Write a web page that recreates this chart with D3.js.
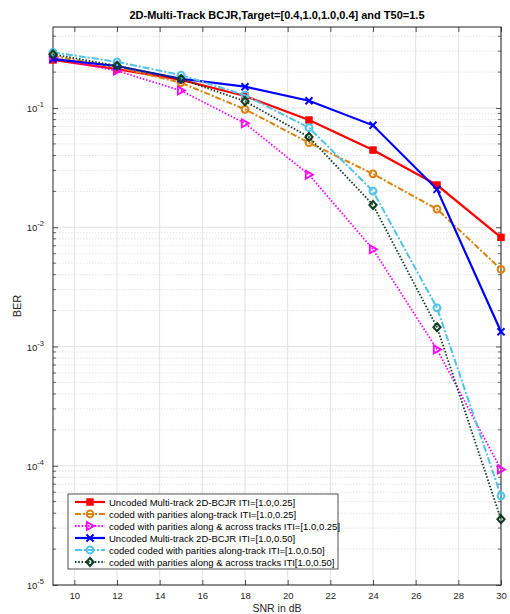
<!DOCTYPE html>
<html>
<head>
<meta charset="utf-8">
<script src="https://cdn.jsdelivr.net/npm/d3@7"></script>
<style>
  body { margin: 0; background: #fff; }
  text { font-family: "Liberation Sans", Arial, sans-serif; }
</style>
</head>
<body>
<div id="chart"></div>
<script>

// data
var snr = [9, 12, 15, 18, 21, 24, 27, 30];

var uncoded25 = [0.253, 0.212, 0.172, 0.126, 0.0793, 0.0444, 0.0226, 0.00824];
var alongTrack25 = [0.272, 0.220, 0.163, 0.0975, 0.0512, 0.0280, 0.0142, 0.00444];
var alongAcross25 = [0.262, 0.205, 0.140, 0.0744, 0.0276, 0.00654, 0.000946, 0.000093];
var uncoded50 = [0.257, 0.225, 0.176, 0.151, 0.115, 0.0716, 0.0208, 0.00133];
var alongTrack50 = [0.293, 0.244, 0.189, 0.128, 0.0684, 0.0201, 0.00211, 0.000056];
var alongAcross50 = [0.282, 0.226, 0.175, 0.114, 0.0571, 0.0154, 0.00145, 0.0000356];

var xTicks = [10, 12, 14, 16, 18, 20, 22, 24, 26, 28, 30];
var yTicks = [-5, -4, -3, -2, -1];

var seriesNames = [
    'Uncoded Multi-track 2D-BCJR ITI=[1.0,0.25]',
    'coded with parities along-track ITI=[1.0,0.25]',
    'coded with parities along & across tracks ITI=[1.0,0.25]',
    'Uncoded Multi-track 2D-BCJR ITI=[1.0,0.50]',
    'coded coded with parities along-track ITI=[1.0,0.50]',
    'coded with parities along & across tracks ITI[1.0,0.50]'
];
var seriesValues = [uncoded25, alongTrack25, alongAcross25, uncoded50, alongTrack50, alongAcross50];

// styles per series
var styles = [
    { color: '#ff0000', dash: null, marker: 'square', fill: true, width: 2.2 },
    { color: '#d9820f', dash: '6,2,2,2', marker: 'circle', fill: false, width: 2 },
    { color: '#ff00ff', dash: '1.5,1.8', marker: 'triangle', fill: false, width: 1.8 },
    { color: '#0000ff', dash: null, marker: 'cross', fill: false, width: 2.2 },
    { color: '#4fc3e8', dash: '7,2,2,2', marker: 'circle', fill: false, width: 2 },
    { color: '#0f3d24', dash: '1.5,1.8', marker: 'diamond', fill: false, width: 1.8 }
];

var attrs = {
    svgWidth: 510,
    svgHeight: 614,
    marginTop: 27,
    marginBottom: 29,
    marginLeft: 53,
    marginRight: 9
};

var calc = {};
calc.chartWidth = attrs.svgWidth - attrs.marginLeft - attrs.marginRight;
calc.chartHeight = attrs.svgHeight - attrs.marginTop - attrs.marginBottom;

var svg = d3.select('#chart')
    .append('svg')
    .attr('width', attrs.svgWidth)
    .attr('height', attrs.svgHeight);

var chart = svg.append('g')
    .attr('transform', 'translate(' + attrs.marginLeft + ',' + attrs.marginTop + ')');

var x = d3.scaleLinear().domain([9, 30]).range([0, calc.chartWidth]);
var y = d3.scaleLog().domain([1e-5, 0.478]).range([calc.chartHeight, 0]);

// minor grid (dotted) for y
var minorY = [];
yTicks.concat([0]).forEach(function (e) {
    for (var k = 2; k <= 9; k++) {
        var v = k * Math.pow(10, e - 1);
        if (v > 1e-5 && v < 0.478) minorY.push(v);
    }
});

chart.append('g').selectAll('line')
    .data(minorY)
    .enter()
    .append('line')
    .attr('x1', 0).attr('x2', calc.chartWidth)
    .attr('y1', function (d) { return y(d); })
    .attr('y2', function (d) { return y(d); })
    .attr('stroke', '#d8d8d8')
    .attr('stroke-width', 0.7)
    .attr('stroke-dasharray', '1.5,1.5');

// major grid
chart.append('g').selectAll('line')
    .data(yTicks)
    .enter()
    .append('line')
    .attr('x1', 0).attr('x2', calc.chartWidth)
    .attr('y1', function (d) { return y(Math.pow(10, d)); })
    .attr('y2', function (d) { return y(Math.pow(10, d)); })
    .attr('stroke', '#dcdcdc')
    .attr('stroke-width', 0.8);

chart.append('g').selectAll('line')
    .data(xTicks)
    .enter()
    .append('line')
    .attr('x1', function (d) { return x(d); })
    .attr('x2', function (d) { return x(d); })
    .attr('y1', 0).attr('y2', calc.chartHeight)
    .attr('stroke', '#dcdcdc')
    .attr('stroke-width', 0.8);

// axes with inward ticks
var xAxis = d3.axisBottom(x).tickValues(xTicks).tickSize(-5).tickPadding(7).tickSizeOuter(0);
var xAxisTop = d3.axisTop(x).tickValues(xTicks).tickSize(-5).tickFormat('').tickSizeOuter(0);
var yAxis = d3.axisLeft(y).tickValues(yTicks.map(function (e) { return Math.pow(10, e); }))
    .tickSize(-5).tickPadding(8).tickFormat('').tickSizeOuter(0);
var yAxisRight = d3.axisRight(y).tickValues(yTicks.map(function (e) { return Math.pow(10, e); }))
    .tickSize(-5).tickFormat('').tickSizeOuter(0);

function styleAxis(g) {
    g.select('.domain').remove();
    g.selectAll('.tick line').attr('stroke', '#262626').attr('stroke-width', 0.8);
    g.selectAll('.tick text').attr('fill', '#262626').attr('font-size', 9.5)
        .attr('font-family', '"Liberation Sans", Arial, sans-serif');
}

chart.append('g').attr('transform', 'translate(0,' + calc.chartHeight + ')').call(xAxis).call(styleAxis);
chart.append('g').call(xAxisTop).call(styleAxis);
chart.append('g').call(yAxis).call(styleAxis);
chart.append('g').attr('transform', 'translate(' + calc.chartWidth + ',0)').call(yAxisRight).call(styleAxis);

// minor y ticks on both sides
chart.append('g').selectAll('line')
    .data(minorY)
    .enter()
    .append('line')
    .attr('x1', 0).attr('x2', 3)
    .attr('y1', function (d) { return y(d); })
    .attr('y2', function (d) { return y(d); })
    .attr('stroke', '#262626').attr('stroke-width', 0.7);
chart.append('g').selectAll('line')
    .data(minorY)
    .enter()
    .append('line')
    .attr('x1', calc.chartWidth - 3).attr('x2', calc.chartWidth)
    .attr('y1', function (d) { return y(d); })
    .attr('y2', function (d) { return y(d); })
    .attr('stroke', '#262626').attr('stroke-width', 0.7);

// y tick labels 10^e
var yLab = chart.append('g').selectAll('text')
    .data(yTicks)
    .enter()
    .append('text')
    .attr('x', -9)
    .attr('y', function (d) { return y(Math.pow(10, d)) + 4; })
    .attr('text-anchor', 'end')
    .attr('fill', '#262626')
    .attr('font-size', 9.5);
yLab.append('tspan').text('10');
yLab.append('tspan').attr('dy', -5).attr('font-size', 7.5).text(function (d) { return d; });

// box
chart.append('rect')
    .attr('width', calc.chartWidth)
    .attr('height', calc.chartHeight)
    .attr('fill', 'none')
    .attr('stroke', '#262626')
    .attr('stroke-width', 1);

// lines
var line = d3.line()
    .x(function (d, i) { return x(snr[i]); })
    .y(function (d) { return y(d); });

function drawMarker(g, st, cx, cy) {
    var c = st.color;
    if (st.marker === 'square') {
        g.append('rect').attr('x', cx - 3.2).attr('y', cy - 3.2).attr('width', 6.4).attr('height', 6.4)
            .attr('fill', c).attr('stroke', c).attr('stroke-width', 1);
    } else if (st.marker === 'circle') {
        g.append('circle').attr('cx', cx).attr('cy', cy).attr('r', 3.4)
            .attr('fill', 'none').attr('stroke', c).attr('stroke-width', 2);
    } else if (st.marker === 'triangle') {
        g.append('path')
            .attr('d', 'M' + (cx - 3.2) + ',' + (cy - 4) + 'L' + (cx + 4) + ',' + cy + 'L' + (cx - 3.2) + ',' + (cy + 4) + 'Z')
            .attr('fill', 'none').attr('stroke', c).attr('stroke-width', 1.8);
    } else if (st.marker === 'cross') {
        g.append('path')
            .attr('d', 'M' + (cx - 3.5) + ',' + (cy - 3.5) + 'L' + (cx + 3.5) + ',' + (cy + 3.5) + 'M' + (cx - 3.5) + ',' + (cy + 3.5) + 'L' + (cx + 3.5) + ',' + (cy - 3.5))
            .attr('fill', 'none').attr('stroke', c).attr('stroke-width', 2);
    } else if (st.marker === 'diamond') {
        g.append('path')
            .attr('d', 'M' + cx + ',' + (cy - 4) + 'L' + (cx + 3.6) + ',' + cy + 'L' + cx + ',' + (cy + 4) + 'L' + (cx - 3.6) + ',' + cy + 'Z')
            .attr('fill', 'none').attr('stroke', c).attr('stroke-width', 2);
    }
}

var plot = chart.append('g');
seriesValues.forEach(function (vals, s) {
    var st = styles[s];
    plot.append('path')
        .datum(vals)
        .attr('d', line)
        .attr('fill', 'none')
        .attr('stroke', st.color)
        .attr('stroke-width', st.width)
        .attr('stroke-dasharray', st.dash);
    var mg = plot.append('g');
    vals.forEach(function (v, i) {
        drawMarker(mg, st, x(snr[i]), y(v));
    });
});

// legend
var legend = chart.append('g').attr('transform', 'translate(15,467)');
legend.append('rect')
    .attr('width', 270)
    .attr('height', 75)
    .attr('fill', '#fff')
    .attr('stroke', '#262626')
    .attr('stroke-width', 0.8);

seriesNames.forEach(function (name, s) {
    var st = styles[s];
    var ly = 8 + s * 12;
    var row = legend.append('g');
    row.append('line')
        .attr('x1', 7).attr('x2', 37)
        .attr('y1', ly).attr('y2', ly)
        .attr('stroke', st.color)
        .attr('stroke-width', st.width)
        .attr('stroke-dasharray', st.dash);
    drawMarker(row, st, 22, ly);
    row.append('text')
        .attr('x', 41)
        .attr('y', ly + 3.5)
        .attr('font-size', 9.5)
        .attr('fill', '#000')
        .text(name);
});

// title and axis labels
svg.append('text')
    .attr('x', attrs.marginLeft + calc.chartWidth / 2)
    .attr('y', 19)
    .attr('text-anchor', 'middle')
    .attr('font-size', 11)
    .attr('font-weight', 'bold')
    .attr('fill', '#000')
    .text('2D-Multi-Track BCJR,Target=[0.4,1.0,1.0,0.4] and T50=1.5');

svg.append('text')
    .attr('x', attrs.marginLeft + calc.chartWidth / 2)
    .attr('y', 612)
    .attr('text-anchor', 'middle')
    .attr('font-size', 10.5)
    .attr('fill', '#262626')
    .text('SNR in dB');

svg.append('text')
    .attr('transform', 'translate(21,' + (attrs.marginTop + calc.chartHeight / 2) + ') rotate(-90)')
    .attr('text-anchor', 'middle')
    .attr('font-size', 11)
    .attr('fill', '#262626')
    .text('BER');

</script>
</body>
</html>
